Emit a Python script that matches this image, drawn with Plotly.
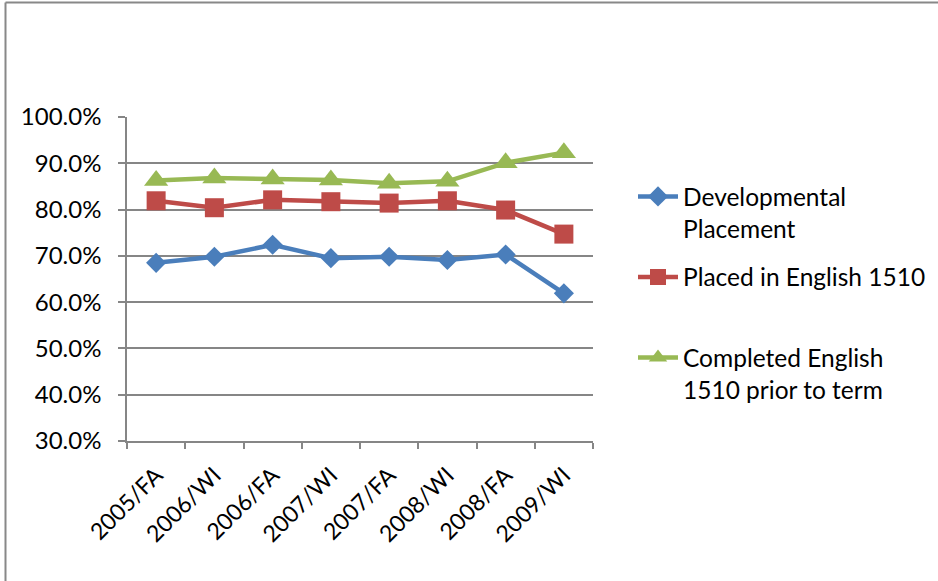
import plotly.graph_objects as go

terms = ["2005/FA", "2006/WI", "2006/FA", "2007/WI", "2007/FA", "2008/WI", "2008/FA", "2009/WI"]
developmental = [0.685, 0.698, 0.724, 0.695, 0.698, 0.691, 0.703, 0.619]
placed_1510 = [0.819, 0.804, 0.821, 0.817, 0.814, 0.819, 0.799, 0.747]
completed_1510 = [0.863, 0.868, 0.866, 0.864, 0.857, 0.861, 0.901, 0.923]

series = [
    ("Developmental<br>Placement", developmental, "#4A7EBB", "diamond", 15.5),
    ("Placed in English 1510", placed_1510, "#BE4B48", "square", 19),
    ("Completed English<br>1510 prior to term", completed_1510, "#98B954", "triangle-up", 21),
]

W, H = 938, 581
L, R, T, B = 127, 345, 117, 140

pw = W - L - R
ph = H - T - B
def px_x(p):
    return (p - L) / pw
def px_y(p):
    return (H - B - p) / ph

legend_centers = [212.5, 277, 373.5]
legend_keys = ["legend", "legend2", "legend3"]

fig = go.Figure()
for i, (name, vals, color, sym, sz) in enumerate(series):
    fig.add_trace(go.Scatter(
        x=terms, y=vals, name=name, mode="lines+markers",
        line=dict(color=color, width=4.5),
        marker=dict(symbol=sym, size=sz, color=color),
        legend=legend_keys[i],
    ))

border = dict(color="#888888", width=2)
fig.add_shape(type="line", xref="paper", yref="paper",
              x0=px_x(5.5), x1=px_x(945), y0=px_y(2.5), y1=px_y(2.5), line=border)
fig.add_shape(type="line", xref="paper", yref="paper",
              x0=px_x(5.5), x1=px_x(5.5), y0=px_y(2.5), y1=px_y(590), line=border)

legend_style = dict(
    xanchor="left", yanchor="middle",
    font=dict(size=24.5, color="black"),
    itemwidth=40, valign="top",
    bgcolor="rgba(0,0,0,0)",
)
layout_legends = {}
for key, cy in zip(legend_keys, legend_centers):
    layout_legends[key] = dict(legend_style, x=px_x(633), y=px_y(cy))

fig.update_layout(
    width=W, height=H,
    margin=dict(l=L, r=R, t=T, b=B, autoexpand=False),
    paper_bgcolor="white", plot_bgcolor="white",
    font=dict(family="Lato, Calibri, sans-serif", size=24, color="black"),
    showlegend=True,
    xaxis=dict(
        type="category",
        tickangle=-45,
        showgrid=False,
        showline=True, linecolor="#868686", linewidth=1.5,
        ticks="outside", ticklen=6, tickcolor="#868686", tickwidth=1.5,
        tickson="boundaries",
        tickfont=dict(size=23),
        ticklabelstandoff=10,
        range=[-0.5, 7.5],
    ),
    yaxis=dict(
        range=[0.3, 1.0],
        dtick=0.1,
        tick0=0.3,
        tickformat=".1%",
        showgrid=True, gridcolor="#868686", gridwidth=1.5,
        showline=True, linecolor="#868686", linewidth=1.5,
        ticks="outside", ticklen=7, tickcolor="#868686", tickwidth=1.5,
        tickfont=dict(size=24),
        ticklabelstandoff=12,
        zeroline=False,
    ),
    **layout_legends,
)

fig.write_html(
    "out.html",
    config={"displayModeBar": False},
    post_script="document.body.style.margin='0';document.body.style.overflow='hidden';",
)
